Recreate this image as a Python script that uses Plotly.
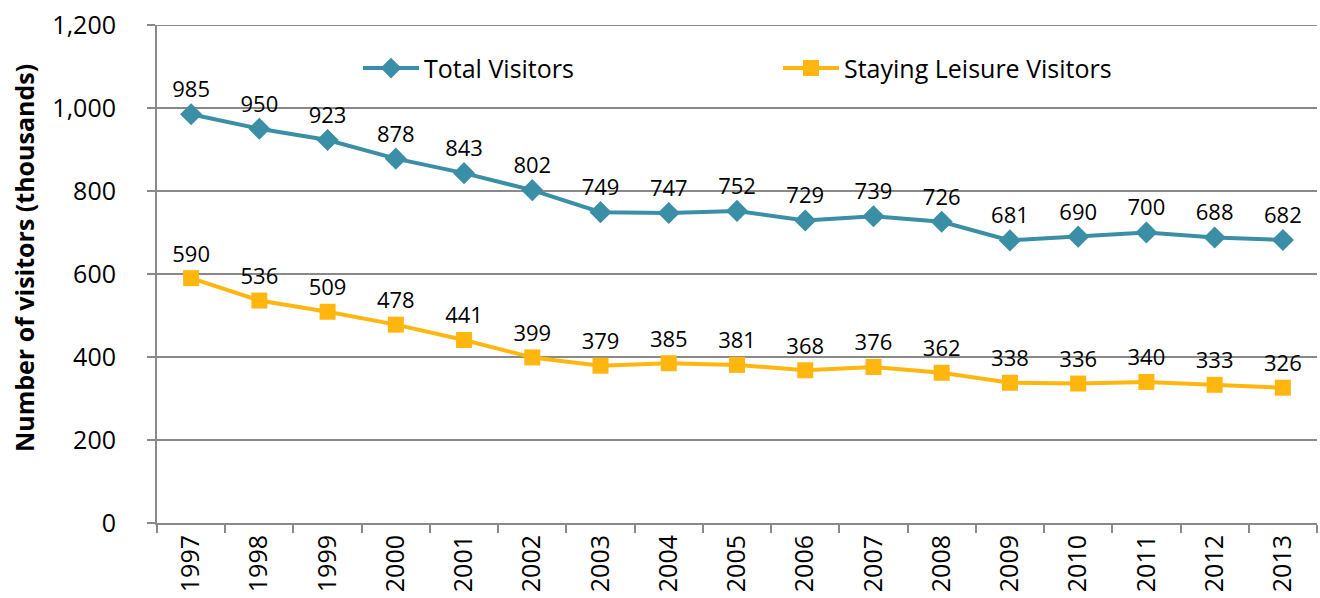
import plotly.graph_objects as go

years = ["1997","1998","1999","2000","2001","2002","2003","2004","2005","2006","2007","2008","2009","2010","2011","2012","2013"]
total_visitors = [985,950,923,878,843,802,749,747,752,729,739,726,681,690,700,688,682]
staying_leisure = [590,536,509,478,441,399,379,385,381,368,376,362,338,336,340,333,326]
y_ticks = [0, 200, 400, 600, 800, 1000, 1200]
y_max = 1200

TEAL = "#3A8FA6"
GOLD = "#FFB60F"
FONT = "Open Sans"
GRID = "#898989"

fig = go.Figure()
fig.add_trace(go.Scatter(
    x=years, y=total_visitors, name="Total Visitors",
    mode="lines+markers+text",
    line=dict(color=TEAL, width=4),
    marker=dict(symbol="diamond", size=17, color=TEAL),
    text=[str(v) for v in total_visitors], textposition="top center",
    textfont=dict(family=FONT, size=22, color="#000000"),
))
fig.add_trace(go.Scatter(
    x=years, y=staying_leisure, name="Staying Leisure Visitors",
    mode="lines+markers+text",
    line=dict(color=GOLD, width=4),
    marker=dict(symbol="square", size=16, color=GOLD),
    text=[str(v) for v in staying_leisure], textposition="top center",
    textfont=dict(family=FONT, size=22, color="#000000"),
))

# top gridline (plotly hides a gridline sitting exactly on the plot edge)
fig.add_shape(type="line", xref="paper", yref="y", x0=0, x1=1, y0=y_max, y1=y_max,
              line=dict(color=GRID, width=2), layer="below")

fig.update_layout(
    width=1320, height=598,
    margin=dict(l=157, r=3, t=25, b=75, autoexpand=False),
    paper_bgcolor="white", plot_bgcolor="white",
    font=dict(family=FONT, size=24, color="#000000"),
    showlegend=True,
    legend=dict(orientation="h", x=(358-157)/1160, y=0.913, xanchor="left", yanchor="middle",
                entrywidth=349, entrywidthmode="pixels", itemwidth=56,
                font=dict(family=FONT, size=25), bgcolor="rgba(0,0,0,0)"),
    xaxis=dict(type="category", showgrid=False, showline=True, linecolor=GRID, linewidth=2,
               ticks="outside", tickson="boundaries", ticklen=8, tickcolor=GRID, tickwidth=2,
               tickangle=-90, tickfont=dict(family=FONT, size=25), automargin=False,
               range=[-0.5, 16.5]),
    yaxis=dict(range=[0, y_max], tickmode="array", tickvals=y_ticks, tickformat=",",
               showgrid=True, gridcolor=GRID, gridwidth=2,
               showline=True, linecolor=GRID, linewidth=2, ticks="outside", ticklen=8,
               tickcolor=GRID, tickwidth=2, zeroline=False, ticklabelstandoff=26,
               tickfont=dict(family=FONT, size=25), automargin=False),
    annotations=[dict(text="<b>Number of visitors (thousands)</b>", textangle=-90,
                      xref="paper", yref="paper", x=(24-157)/1160, y=0.532,
                      xanchor="center", yanchor="middle", showarrow=False,
                      font=dict(family=FONT, size=25, color="#000000"))],
)

fig.write_html("out.html", config={"displayModeBar": False},
               post_script="document.body.style.margin='0';document.body.style.overflow='hidden';")
